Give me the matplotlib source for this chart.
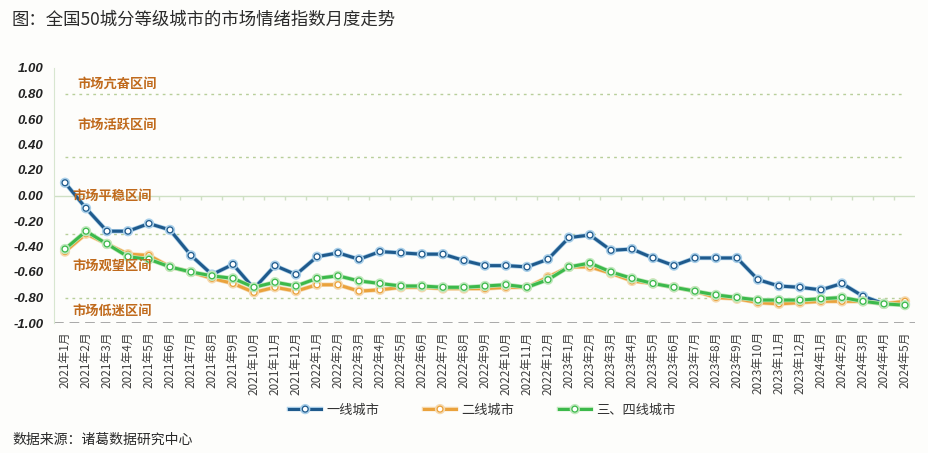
import numpy as np
import matplotlib
matplotlib.use("Agg")
import matplotlib.pyplot as plt
import matplotlib.patheffects as pe

plt.rcParams['font.family'] = ['Noto Sans CJK SC', 'DejaVu Sans']

# months 2021-01 .. 2024-05
months = [f"{y}年{m}月" for y in (2021, 2022, 2023, 2024) for m in range(1, 13)][:41]

tier1 = [0.10, -0.10, -0.28, -0.28, -0.22, -0.27, -0.47, -0.62, -0.54, -0.73,
         -0.55, -0.62, -0.48, -0.45, -0.50, -0.44, -0.45, -0.46, -0.46, -0.51,
         -0.55, -0.55, -0.56, -0.50, -0.33, -0.31, -0.43, -0.42, -0.49, -0.55,
         -0.49, -0.49, -0.49, -0.66, -0.71, -0.72, -0.74, -0.69, -0.79, -0.85, -0.85]
tier2 = [-0.44, -0.30, -0.38, -0.46, -0.47, -0.56, -0.60, -0.65, -0.69, -0.76,
         -0.72, -0.75, -0.70, -0.70, -0.75, -0.74, -0.72, -0.72, -0.73, -0.73,
         -0.73, -0.72, -0.72, -0.64, -0.56, -0.56, -0.61, -0.67, -0.69, -0.72,
         -0.75, -0.80, -0.81, -0.84, -0.85, -0.84, -0.83, -0.83, -0.83, -0.85, -0.83]
tier34 = [-0.42, -0.28, -0.38, -0.48, -0.50, -0.56, -0.60, -0.63, -0.65, -0.72,
          -0.68, -0.71, -0.65, -0.63, -0.67, -0.69, -0.71, -0.71, -0.72, -0.72,
          -0.71, -0.70, -0.72, -0.66, -0.56, -0.53, -0.60, -0.65, -0.69, -0.72,
          -0.75, -0.78, -0.80, -0.82, -0.82, -0.82, -0.81, -0.80, -0.83, -0.85, -0.86]

series_names = ["一线城市", "二线城市", "三、四线城市"]
zone_bounds = [0.8, 0.3, -0.3, -0.8]
zone_names = ["市场亢奋区间", "市场活跃区间", "市场平稳区间", "市场观望区间", "市场低迷区间"]
zone_y = [0.88, 0.55, 0.0, -0.55, -0.90]
zone_x = [0.6, 0.6, 0.35, 0.35, 0.35]

fig = plt.figure(figsize=(9.29, 4.53), dpi=100)
fig.patch.set_facecolor('#fdfdfb')
ax = fig.add_axes([54.5/929, 1 - 323/453, (915.5-54.5)/929, (323-68)/453])
ax.set_facecolor('#fdfdfb')

x = np.arange(len(months))

# zone boundaries
for b in zone_bounds:
    ax.plot([x[0], x[-1]], [b, b], color='#b8cf9a', lw=1, ls=(0, (2, 3)), zorder=1)
ax.axhline(-1.0, color='#a8a8a8', lw=1.4, ls=(0, (5, 3)), zorder=1)

# category axis crossing at 0
ax.axhline(0, color='#cfe0c4', lw=1, zorder=1)
ax.vlines(x[:-1] + 0.5, -0.035, 0, color='#cfe0c4', lw=1, zorder=1)

colors = ['#1f5a8c', '#eaa23c', '#3cb94b']
glow = ['#a9cfe9', '#f6d9ae', '#bfe8bc']
for vals, c, g, name in zip([tier1, tier2, tier34], colors, glow, series_names):
    ax.plot(x, vals, color=c, lw=2.2, marker='o', ms=4.2, mfc='white', mec=c, mew=0.9,
            label=name, zorder=3,
            path_effects=[pe.Stroke(linewidth=3.2, foreground=g), pe.Normal()])

for name, yy, xx in zip(zone_names, zone_y, zone_x):
    ax.text(xx, yy, name, color='#c06a1c', fontsize=9.5, style='italic',
            fontweight='bold', va='center', ha='left', zorder=4)

ax.set_xlim(-0.5, len(months) - 0.5)
ax.set_ylim(-1.0, 1.0)
ax.set_xticks(x)
ax.set_xticklabels(months, rotation=90, fontsize=8.5, color='#404040')
ax.tick_params(axis='x', length=0, pad=6)

yt = np.round(np.arange(-1.0, 1.01, 0.2), 2)
ax.set_yticks(yt)
ax.set_yticklabels([f"{v:.2f}".replace("-0.00", "0.00") for v in yt], fontsize=9.5,
                   fontweight='bold', style='italic', family='Liberation Sans',
                   color='#222222')
ax.tick_params(axis='y', length=0, pad=8)

for s in ['top', 'right', 'bottom']:
    ax.spines[s].set_visible(False)
ax.spines['left'].set_color('#d8e6d0')

leg = ax.legend(loc='upper center', bbox_to_anchor=(0.497, -0.27), ncol=3,
                frameon=False, fontsize=9.5, handlelength=2.4, columnspacing=3.4,
                handletextpad=0.4)
for t in leg.get_texts():
    t.set_color('#333333')

fig.text(12/929, 1 - 20/453, "图：全国50城分等级城市的市场情绪指数月度走势",
         fontsize=12.5, color='#2a2a2a', va='center', ha='left')
fig.text(12/929, 1 - 440/453, "数据来源：诸葛数据研究中心",
         fontsize=10, color='#2a2a2a', va='center', ha='left')

fig.savefig('out.png', dpi=100, facecolor=fig.get_facecolor())
